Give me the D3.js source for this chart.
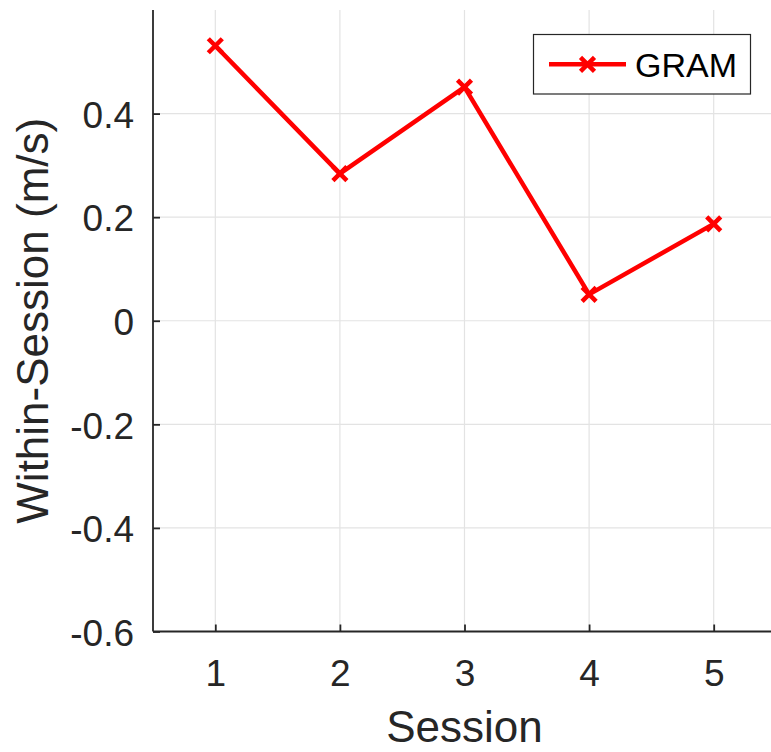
<!DOCTYPE html>
<html>
<head>
<meta charset="utf-8">
<script src="https://cdn.jsdelivr.net/npm/d3@7"></script>
<style>
  html, body { margin: 0; padding: 0; background: #fff; }
  svg { display: block; }
</style>
</head>
<body>
<svg id="chart" width="771" height="752"></svg>
<script>
// Session numbers and the within-session values for GRAM
const sessions = [1, 2, 3, 4, 5];
const gramValues = [0.531, 0.284, 0.451, 0.051, 0.187];
const yTicks = [-0.6, -0.4, -0.2, 0, 0.2, 0.4];
const yTickLabels = ["-0.6", "-0.4", "-0.2", "0", "0.2", "0.4"];
const seriesName = "GRAM";
const xLabel = "Session";
const yLabel = "Within-Session (m/s)";

(function () {
  const svg = d3.select("#chart");
  const font = "'Liberation Sans', Arial, Helvetica, sans-serif";
  const axisColor = "#262626";
  const gridColor = "#e3e3e3";

  const plotLeft = 153, plotRight = 776, plotTop = 10, plotBottom = 631.5;

  const x = d3.scaleLinear().domain([0.5, 5.5]).range([plotLeft, plotRight]);
  const y = d3.scaleLinear().domain([-0.6, 0.6]).range([plotBottom, plotTop]);

  // grid
  const grid = svg.append("g");
  grid.selectAll("line.gx").data(sessions).join("line")
    .attr("x1", d => x(d)).attr("x2", d => x(d))
    .attr("y1", plotTop).attr("y2", plotBottom)
    .attr("stroke", gridColor).attr("stroke-width", 1.2);
  grid.selectAll("line.gy").data(yTicks.filter(v => v !== -0.6)).join("line")
    .attr("x1", plotLeft).attr("x2", plotRight)
    .attr("y1", d => y(d)).attr("y2", d => y(d))
    .attr("stroke", gridColor).attr("stroke-width", 1.2);

  // axes (ticks inside, no box)
  const xAxis = d3.axisBottom(x).tickValues(sessions).tickSize(-7).tickPadding(14)
    .tickFormat(d3.format("d"));
  const yAxis = d3.axisLeft(y).tickValues(yTicks).tickSize(-7).tickPadding(19)
    .tickFormat((d, i) => yTickLabels[i]);

  const gx = svg.append("g").attr("transform", `translate(0,${plotBottom})`).call(xAxis);
  const gy = svg.append("g").attr("transform", `translate(${plotLeft},0)`).call(yAxis);

  [gx, gy].forEach(g => {
    g.select(".domain").attr("stroke", axisColor).attr("stroke-width", 1.8);
    g.selectAll(".tick line").attr("stroke", axisColor).attr("stroke-width", 1.8);
    g.selectAll(".tick text")
      .attr("fill", axisColor)
      .style("font-family", font)
      .style("font-size", "37px");
  });
  gx.select(".domain").attr("d", `M${plotLeft},0H${plotRight}`);
  gy.select(".domain").attr("d", `M0,${plotTop}V${plotBottom}`);
  gx.selectAll(".tick text").attr("dy", null).attr("y", 54.5);
  gy.selectAll(".tick text").attr("dy", "0.37em");

  // axis labels
  svg.append("text")
    .attr("x", (plotLeft + plotRight) / 2).attr("y", 742)
    .attr("text-anchor", "middle")
    .attr("fill", axisColor)
    .style("font-family", font).style("font-size", "44px")
    .text(xLabel);

  svg.append("text")
    .attr("transform", `translate(48,${(plotTop + plotBottom) / 2}) rotate(-90)`)
    .attr("text-anchor", "middle")
    .attr("fill", axisColor)
    .style("font-family", font).style("font-size", "44px")
    .text(yLabel);

  // data line and markers
  const red = "#ff0000";
  const pts = sessions.map((s, i) => [s, gramValues[i]]);
  svg.append("path")
    .datum(pts)
    .attr("fill", "none")
    .attr("stroke", red)
    .attr("stroke-width", 4.5)
    .attr("stroke-linejoin", "round")
    .attr("d", d3.line().x(d => x(d[0])).y(d => y(d[1])));

  function crossPath(cx, cy, r) {
    return `M${cx - r},${cy - r}L${cx + r},${cy + r}M${cx - r},${cy + r}L${cx + r},${cy - r}`;
  }
  svg.append("g").selectAll("path").data(pts).join("path")
    .attr("d", d => crossPath(x(d[0]), y(d[1]), 7))
    .attr("stroke", red).attr("stroke-width", 4.5).attr("fill", "none");

  // legend
  const lg = svg.append("g");
  lg.append("rect")
    .attr("x", 533.5).attr("y", 34.5).attr("width", 217).attr("height", 59.5)
    .attr("fill", "#fff").attr("stroke", axisColor).attr("stroke-width", 1.2);
  lg.append("line")
    .attr("x1", 549).attr("x2", 626).attr("y1", 64.3).attr("y2", 64.3)
    .attr("stroke", red).attr("stroke-width", 4.5);
  lg.append("path")
    .attr("d", crossPath(587.5, 64.3, 7))
    .attr("stroke", red).attr("stroke-width", 4.5).attr("fill", "none");
  lg.append("text")
    .attr("x", 635).attr("y", 77.3)
    .attr("fill", "#000")
    .style("font-family", font).style("font-size", "34px")
    .text(seriesName);
})();
</script>
</body>
</html>
